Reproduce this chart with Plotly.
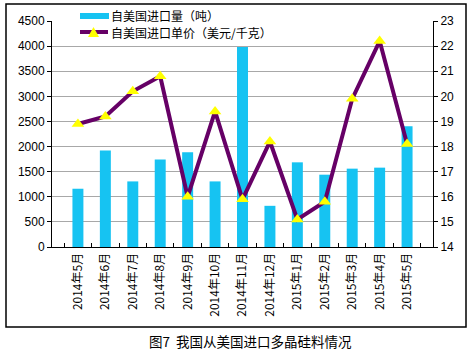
import plotly.graph_objects as go

months = ["2014年5月", "2014年6月", "2014年7月", "2014年8月", "2014年9月", "2014年10月",
          "2014年11月", "2014年12月", "2015年1月", "2015年2月", "2015年3月", "2015年4月", "2015年5月"]
volume = [1160, 1920, 1306, 1740, 1886, 1306, 3980, 820, 1686, 1440, 1560, 1580, 2406]
price = [18.9, 19.2, 20.2, 20.8, 16.0, 19.4, 15.9, 18.2, 15.1, 15.8, 19.9, 22.2, 18.1]
legend_names = ["自美国进口量（吨）", "自美国进口单价（美元/千克）"]

font_main = "Noto Sans CJK SC, DejaVu Sans, sans-serif"
BAR_COLOR = "#16C3F2"
LINE_COLOR = "#660066"
MARK_COLOR = "#FFFF00"

L, R, T, B = 52, 37, 21, 110
W, H = 470, 357
PW, PH = W - L - R, H - T - B


def px(x):
    return (x - L) / PW


def py(y):
    return (H - B - y) / PH


fig = go.Figure()
fig.add_trace(go.Bar(x=months, y=volume, name=legend_names[0],
                     marker=dict(color=BAR_COLOR, line=dict(width=0)), width=0.4))
fig.add_trace(go.Scatter(x=months, y=price, name=legend_names[1], yaxis="y2",
                         mode="lines+markers",
                         line=dict(color=LINE_COLOR, width=4),
                         marker=dict(symbol="triangle-up", size=11, color=MARK_COLOR,
                                     line=dict(width=0))))

fig.update_layout(
    width=W, height=H,
    margin=dict(l=L, r=R, t=T, b=B, autoexpand=False),
    paper_bgcolor="white", plot_bgcolor="white",
    font=dict(family=font_main, size=11, color="black"),
    showlegend=False,
    xaxis=dict(type="category", tickangle=-90, ticks="inside", tickson="boundaries",
               ticklen=4, tickcolor="black", showline=True, linecolor="black",
               linewidth=1, showgrid=False, tickfont=dict(size=12, family=font_main)),
    yaxis=dict(range=[0, 4500], dtick=500, showgrid=True, gridcolor="#a8a8a8",
               gridwidth=1, showline=True, linecolor="black", ticks="outside",
               ticklen=4, tickcolor="black", zeroline=False,
               tickfont=dict(size=12, family="Liberation Sans, Arial, sans-serif")),
    yaxis2=dict(range=[14, 23], dtick=1, overlaying="y", side="right", showgrid=False,
                showline=True, linecolor="black", ticks="outside", ticklen=4,
                tickcolor="black", zeroline=False,
                tickfont=dict(size=12, family="Liberation Sans, Arial, sans-serif")),
)

shapes = []
# outer chart frame
shapes.append(dict(type="rect", xref="paper", yref="paper",
                   x0=px(6), x1=px(466), y0=py(327), y1=py(4),
                   line=dict(color="black", width=1.5), fillcolor="rgba(0,0,0,0)",
                   layer="below"))
# legend background
shapes.append(dict(type="rect", xref="paper", yref="paper",
                   x0=px(77), x1=px(278), y0=py(41), y1=py(7),
                   line=dict(width=0), fillcolor="white", layer="above"))
# legend symbol: bar
shapes.append(dict(type="rect", xref="paper", yref="paper",
                   x0=px(80), x1=px(109), y0=py(19), y1=py(13),
                   line=dict(width=0), fillcolor=BAR_COLOR, layer="above"))
# legend symbol: line
shapes.append(dict(type="line", xref="paper", yref="paper",
                   x0=px(80), x1=px(108), y0=py(32), y1=py(32),
                   line=dict(color=LINE_COLOR, width=4), layer="above"))
shapes.append(dict(type="path", xref="paper", yref="paper",
                   path=f"M {px(88)} {py(37)} L {px(99)} {py(37)} L {px(93.5)} {py(27)} Z",
                   line=dict(width=0), fillcolor=MARK_COLOR, layer="above"))
fig.update_layout(shapes=shapes)

fig.add_annotation(text=legend_names[0], xref="paper", yref="paper",
                   x=px(110), y=py(15.5), xanchor="left", yanchor="middle", showarrow=False,
                   borderpad=0, font=dict(size=12, family=font_main, color="black"))
fig.add_annotation(text=legend_names[1], xref="paper", yref="paper",
                   x=px(110), y=py(32.5), xanchor="left", yanchor="middle", showarrow=False,
                   borderpad=0, font=dict(size=12, family=font_main, color="black"))

fig.add_annotation(text="图7  我国从美国进口多晶硅料情况", xref="paper", yref="paper",
                   x=px(250), y=py(341), xanchor="center", yanchor="middle", showarrow=False,
                   font=dict(size=13.5, family=font_main, color="black"))

fig.write_html("out.html", config={"displayModeBar": False},
               post_script="document.body.style.margin='0';")
